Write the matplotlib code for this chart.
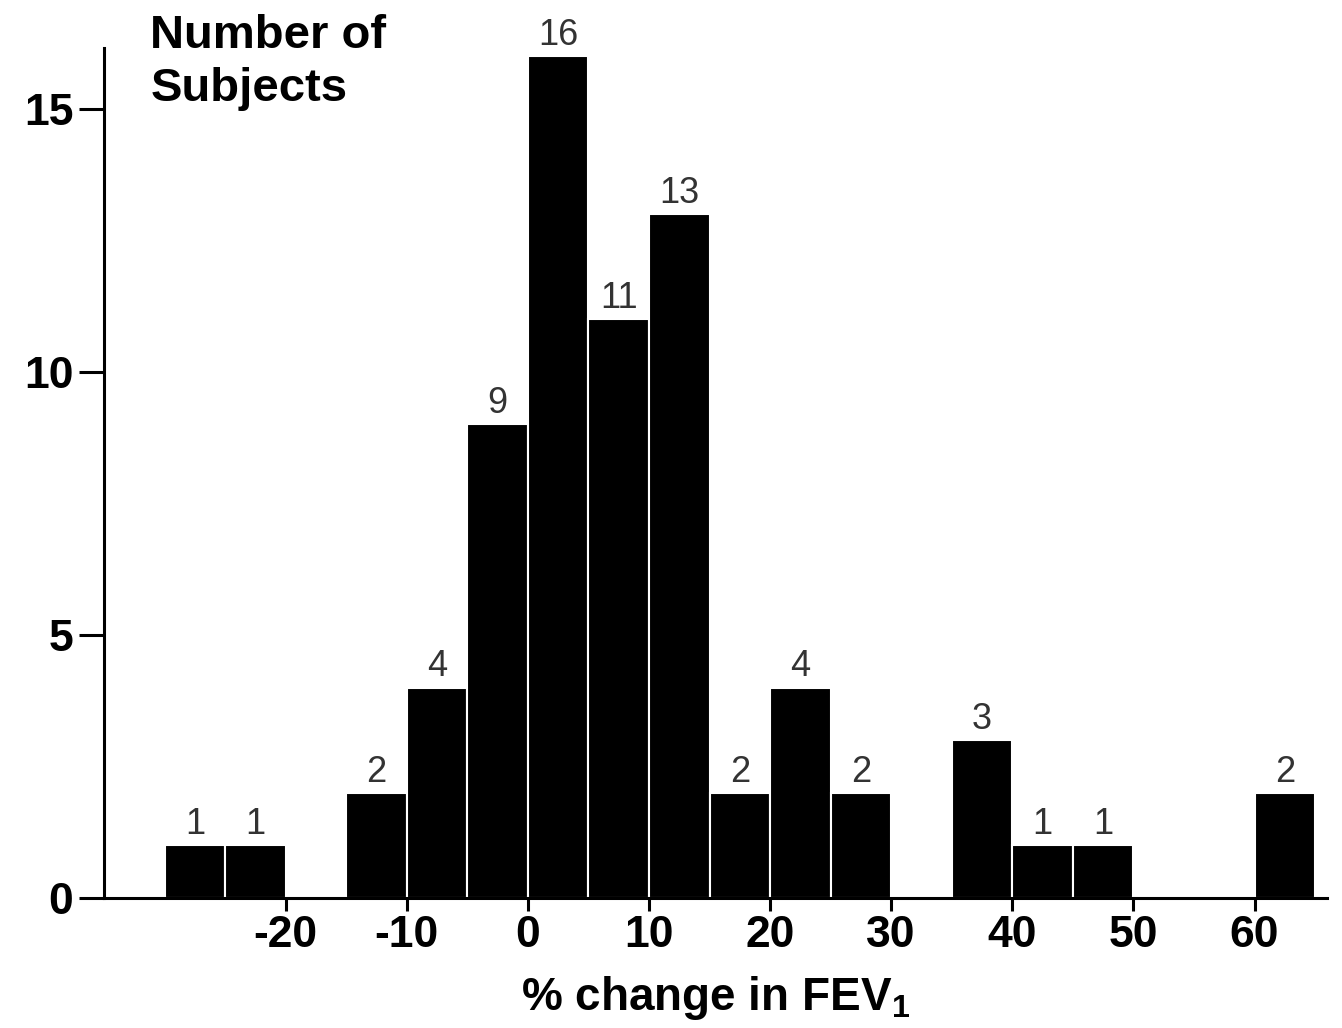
import matplotlib
matplotlib.use("Agg")
import matplotlib.pyplot as plt

# histogram of % change in FEV1, 5-point bins (left edges)
BIN_LEFT = [-30, -25, -20, -15, -10, -5, 0, 5, 10, 15, 20, 25, 30, 35, 40, 45, 50, 55, 60]
COUNTS = [1, 1, 0, 2, 4, 9, 16, 11, 13, 2, 4, 2, 0, 3, 1, 1, 0, 0, 2]
BIN_WIDTH = 5
X_TICKS = [-20, -10, 0, 10, 20, 30, 40, 50, 60]
Y_TICKS = [0, 5, 10, 15]

plt.rcParams["font.family"] = ["Liberation Sans", "DejaVu Sans"]
plt.rcParams["mathtext.default"] = "regular"
plt.rcParams["axes.unicode_minus"] = False

fig = plt.figure(figsize=(13.42, 10.28), dpi=100)
ax = fig.add_axes([0.0775, 0.1265, 0.9115, 0.8265])

ax.bar(BIN_LEFT, COUNTS, width=BIN_WIDTH, align="edge",
       color="black", edgecolor="white", linewidth=1.5)

for x, c in zip(BIN_LEFT, COUNTS):
    if c > 0:
        ax.text(x + BIN_WIDTH / 2, c + 0.06, str(c), ha="center", va="bottom",
                fontsize=26, color="#333333")

ax.set_xlim(-35, 66)
ax.set_ylim(0, 16.15)
ax.set_xticks(X_TICKS)
ax.set_yticks(Y_TICKS)

for side in ["top", "right"]:
    ax.spines[side].set_visible(False)
for side in ["left", "bottom"]:
    ax.spines[side].set_linewidth(2.2)

ax.tick_params(axis="y", length=18, width=2.2, pad=4, labelsize=32)
ax.tick_params(axis="x", length=9, width=2.2, pad=3, labelsize=32)
for lab in ax.get_xticklabels() + ax.get_yticklabels():
    lab.set_fontweight("bold")

ax.set_xlabel(r"% change in FEV$_{1}$", fontsize=33, fontweight="bold",
              labelpad=13)

fig.text(0.112, 0.986, "Number of\nSubjects", ha="left", va="top",
         fontsize=34, fontweight="bold", linespacing=1.25)

fig.savefig("out.png", dpi=100)
